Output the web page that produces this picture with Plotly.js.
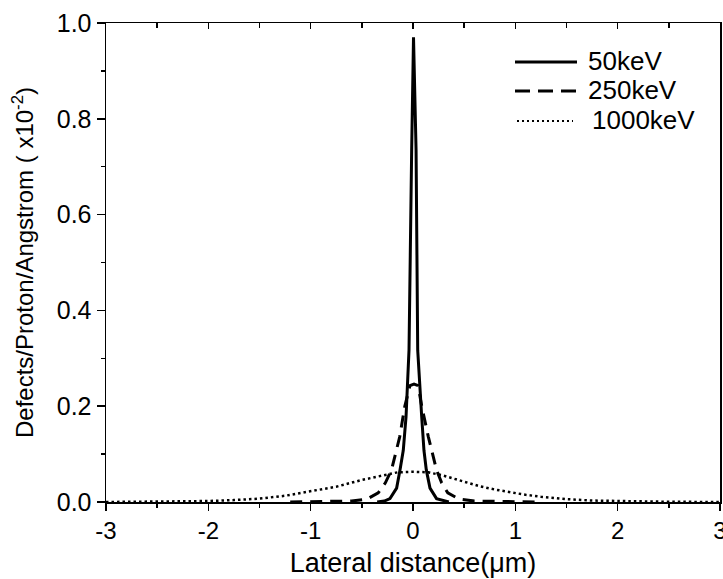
<!DOCTYPE html>
<html>
<head>
<meta charset="utf-8">
<script src="https://cdn.plot.ly/plotly-3.0.1.min.js"></script>
<style>html,body{margin:0;padding:0;background:#fff;}#chart{width:723px;height:579px;}</style>
</head>
<body>
<div id="chart"></div>
<script>
// 50 keV (solid)
const x50 = [-0.35, -0.28, -0.225, -0.16, -0.127, -0.095, -0.068, -0.039, -0.013, 0.005, 0.03, 0.046, 0.085, 0.107, 0.13, 0.166, 0.23, 0.3, 0.35];
const y50 = [0, 0.002, 0.007, 0.029, 0.067, 0.108, 0.178, 0.317, 0.735, 0.97, 0.735, 0.317, 0.178, 0.108, 0.067, 0.029, 0.007, 0.002, 0];
// 250 keV (dashed)
const x250 = [-1.2, -0.9, -0.6, -0.45, -0.34, -0.27, -0.21, -0.13, -0.08, -0.03, 0.01, 0.05, 0.085, 0.15, 0.23, 0.28, 0.34, 0.45, 0.6, 0.9, 1.2];
const y250 = [0, 0.001, 0.002, 0.006, 0.019, 0.04, 0.067, 0.136, 0.2, 0.243, 0.246, 0.243, 0.2, 0.136, 0.067, 0.04, 0.019, 0.006, 0.002, 0.001, 0];
// 1000 keV (dotted)
const x1000 = [-3, -2.5, -2, -1.75, -1.5, -1.25, -1, -0.75, -0.5, -0.3, -0.15, 0, 0.15, 0.3, 0.5, 0.65, 0.8, 0.95, 1.1, 1.25, 1.5, 1.75, 2, 2.5, 3];
const y1000 = [0, 0.0005, 0.002, 0.004, 0.007, 0.013, 0.022, 0.032, 0.046, 0.056, 0.062, 0.063, 0.062, 0.055, 0.043, 0.033, 0.026, 0.02, 0.015, 0.011, 0.006, 0.003, 0.002, 0.0005, 0];
const seriesNames = ['50keV', '250keV', '1000keV'];
const xTickVals = [-3, -2, -1, 0, 1, 2, 3];
const xTickText = ['-3', '-2', '-1', '0', '1', '2', '3'];
const yTickVals = [0, 0.2, 0.4, 0.6, 0.8, 1.0];
const yTickText = ['0.0', '0.2', '0.4', '0.6', '0.8', '1.0'];

const FONT = 'Liberation Sans, Arial, sans-serif';
const lineStyles = [
  {color: '#000', width: 3, dash: 'solid'},
  {color: '#000', width: 3, dash: '12px,8px'},
  {color: '#000', width: 2.5, dash: '2.5px,3px'}
];
const legendLineStyles = [
  {color: '#000', width: 3, dash: 'solid'},
  {color: '#000', width: 3, dash: '15px,8px'},
  {color: '#000', width: 2, dash: '2px,3px'}
];

const traces = [
  {x: x50, y: y50, name: seriesNames[0], mode: 'lines', line: lineStyles[0]},
  {x: x250, y: y250, name: seriesNames[1], mode: 'lines', line: lineStyles[1]},
  {x: x1000, y: y1000, name: seriesNames[2], mode: 'lines', line: lineStyles[2]},
  // placeholder (no drawable point) only so that the top tick axis (x2) is created
  {x: [null], y: [null], xaxis: 'x2', yaxis: 'y', mode: 'lines', showlegend: false, hoverinfo: 'skip'}
];

// manual legend (paper coordinates of the plot area)
const W = 723, H = 579, ML = 106, MR = 3, MT = 23, MB = 77;
const PW = W - ML - MR, PH = H - MT - MB;
const px = v => (v - ML) / PW;
const py = v => (H - MB - v) / PH;
const legRowsY = [62, 91, 121];
const legLineX = [[515, 577], [515, 577], [517, 573]];
const legTextX = [586, 586, 590];
const shapes = seriesNames.map((n, i) => ({
  type: 'line', xref: 'paper', yref: 'paper',
  x0: px(legLineX[i][0]), x1: px(legLineX[i][1]), y0: py(legRowsY[i]), y1: py(legRowsY[i]),
  line: legendLineStyles[i]
}));
const annotations = seriesNames.map((n, i) => ({
  text: n, xref: 'paper', yref: 'paper', x: px(legTextX[i]), y: py(legRowsY[i] - 1),
  xanchor: 'left', yanchor: 'middle', showarrow: false,
  font: {family: FONT, size: 26, color: '#000'}
}));

const layout = {
  width: W, height: H,
  margin: {l: ML, r: MR, t: MT, b: MB},
  paper_bgcolor: '#fff', plot_bgcolor: '#fff',
  font: {family: FONT, color: '#000', size: 24},
  showlegend: false,
  shapes: shapes,
  annotations: annotations,
  xaxis: {
    range: [-3, 3], tickmode: 'array', tickvals: xTickVals, ticktext: xTickText,
    ticks: 'outside', ticklen: 7, tickwidth: 1.5, tickcolor: '#000',
    minor: {dtick: 0.5, ticks: 'outside', ticklen: 4, tickwidth: 1.5, tickcolor: '#000'},
    showline: true, linecolor: '#000', linewidth: 1.5, mirror: true,
    showgrid: false, zeroline: false, ticklabeloverflow: 'allow',
    tickfont: {family: FONT, size: 24, color: '#000'},
    title: {text: 'Lateral distance(\u03bcm)', font: {family: FONT, size: 27, color: '#000'}, standoff: 10}
  },
  xaxis2: {
    overlaying: 'x', side: 'top', anchor: 'y', range: [-3, 3], tickmode: 'linear', dtick: 1, tick0: 0,
    ticks: 'inside', ticklen: 6, tickwidth: 1.5, tickcolor: '#000',
    minor: {dtick: 0.5, ticks: 'inside', ticklen: 5, tickwidth: 1.5, tickcolor: '#000'},
    showticklabels: false, showline: false, showgrid: false, zeroline: false
  },
  yaxis: {
    range: [0, 1.0], tickmode: 'array', tickvals: yTickVals, ticktext: yTickText,
    ticks: 'outside', ticklen: 8, tickwidth: 1.5, tickcolor: '#000',
    minor: {dtick: 0.1, ticks: 'outside', ticklen: 4, tickwidth: 1.5, tickcolor: '#000'},
    showline: true, linecolor: '#000', linewidth: 1.5, mirror: true,
    showgrid: false, zeroline: false,
    tickfont: {family: FONT, size: 25, color: '#000'},
    title: {text: 'Defects/Proton/Angstrom ( x10<sup>-2</sup>)', font: {family: FONT, size: 24, color: '#000'}, standoff: 16}
  }
};

Plotly.newPlot('chart', traces, layout, {displayModeBar: false, staticPlot: true});
</script>
</body>
</html>
